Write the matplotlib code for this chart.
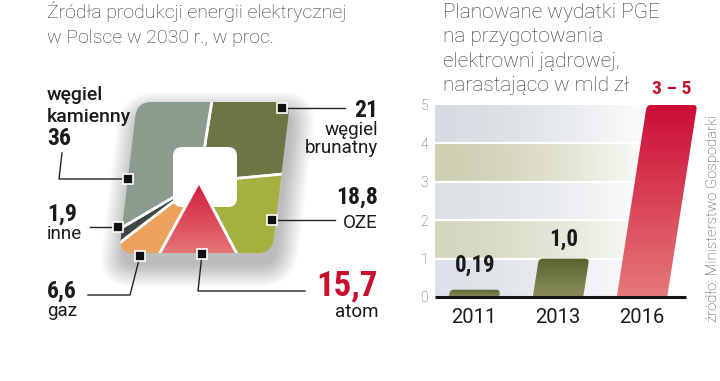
import numpy as np
import matplotlib

matplotlib.use("Agg")
import matplotlib.pyplot as plt
from matplotlib import font_manager
from matplotlib.colors import LinearSegmentedColormap, to_rgb
from matplotlib.patches import FancyBboxPatch
from matplotlib.transforms import Affine2D

# --- struktura produkcji energii w 2030 r. (proc.) ---
sources = ["węgiel brunatny", "OZE", "atom", "gaz", "inne", "węgiel kamienny"]
shares = [21, 18.8, 15.7, 6.6, 1.9, 36]
share_labels = ["21", "18,8", "15,7", "6,6", "1,9", "36"]
source_colors = ["#6c7544", "#a4b03f", "#d9334f", "#eca25c", "#3e4545", "#8a9c8d"]

# --- wydatki PGE, mld zł ---
years = ["2011", "2013", "2016"]
spend = [0.19, 1.0, 5.0]
spend_labels = ["0,19", "1,0", "3 – 5"]
y_ticks = [0, 1, 2, 3, 4, 5]

_names = {f.name for f in font_manager.fontManager.ttflist}


def pick_family(cands: list[str]) -> list[str]:
    for c in cands:
        if c in _names:
            return [c, "DejaVu Sans"]
    return ["DejaVu Sans"]


NARROW = pick_family(["Roboto Condensed", "Asap Condensed", "Archivo Narrow", "Liberation Sans Narrow"])
LIGHT = ["Roboto", "DejaVu Sans"]

fig = plt.figure(figsize=(7.2, 3.81), dpi=100)
fig.patch.set_facecolor("white")

# ---------------- lewa część: "kwadratowy" tort ----------------
ax = fig.add_axes([0, 0, 1, 1])
PIE_C = (199, 182)
wedges, _ = ax.pie(shares, colors=source_colors, startangle=-81, counterclock=True,
                   radius=150, center=PIE_C, frame=True,
                   wedgeprops=dict(edgecolor="white", linewidth=2))
ax.set_aspect("auto")

k, yc = -0.12, 178
skew = Affine2D(np.array([[1, k, -k * yc], [0, 1, 0], [0, 0, 1]]))
outer = FancyBboxPatch((128, 102), 153, 151, boxstyle="round,pad=0,rounding_size=14",
                       transform=skew + ax.transData, facecolor="none", edgecolor="none")
ax.add_patch(outer)

# miękki cień pod kształtem
for i in range(14):
    sh = FancyBboxPatch((128, 102), 153, 151,
                        boxstyle=f"round,pad={i * 1.7},rounding_size={14 + i * 1.7}",
                        transform=skew + Affine2D().translate(3, 12) + ax.transData,
                        facecolor="black", edgecolor="none", alpha=0.018, zorder=0.5)
    ax.add_patch(sh)

for w in wedges:
    w.set_clip_on(True)
    w.set_clip_path(outer)
    w.set_zorder(1)

hole = FancyBboxPatch((173, 147), 64, 60, boxstyle="round,pad=0,rounding_size=9",
                      facecolor="white", edgecolor="none", zorder=2)
ax.add_patch(hole)

atom = wedges[2]
atom.set_zorder(3.5)
atom.set_facecolor("none")
atom_cmap = LinearSegmentedColormap.from_list("atom", ["#cf1238", "#e57474"])
im = ax.imshow(np.linspace(0, 1, 64)[:, None], cmap=atom_cmap, extent=(140, 260, 253, 175),
               aspect="auto", interpolation="bilinear", zorder=3)
im.set_clip_path(atom)

ax.set_xlim(0, 720)
ax.set_ylim(381, 0)
ax.axis("off")

# linie odnośników + znaczniki
leaders = [
    [(282, 108), (345, 108)],
    [(272, 220), (335, 220)],
    [(202, 254), (198, 291), (305, 291)],
    [(140, 256), (130, 295), (88, 295)],
    [(118, 227), (90, 227)],
    [(128, 179), (59, 179), (62, 153)],
]
for pts in leaders:
    xs, ys = zip(*pts)
    ax.plot(xs, ys, color="#222222", lw=1, zorder=5)
    ax.plot(xs[0], ys[0], marker="s", ms=6.5, mfc="#111111", mec="white", mew=1.2, zorder=6)

num_kw = dict(family=NARROW, weight="bold", color="#1a1a1a", fontsize=17)
lab_kw = dict(family=LIGHT, color="#1a1a1a", fontsize=13.5)

ax.text(378, 117, share_labels[0], ha="right", **num_kw)
ax.text(378, 135, "węgiel", ha="right", **lab_kw)
ax.text(378, 153, "brunatny", ha="right", **lab_kw)
ax.text(378, 204, share_labels[1], ha="right", **num_kw)
ax.text(378, 228, "OZE", ha="right", **lab_kw)
ax.text(378, 295, share_labels[2], ha="right", family=NARROW, weight="bold",
        color="#c8102e", fontsize=25)
ax.text(378, 317, "atom", ha="right", **lab_kw)
ax.text(47, 298, share_labels[3], ha="left", **num_kw)
ax.text(47, 316, "gaz", ha="left", **lab_kw)
ax.text(47, 221, share_labels[4], ha="left", **num_kw)
ax.text(47, 239, "inne", ha="left", **lab_kw)
ax.text(47, 100, "węgiel", ha="left", family=LIGHT, weight="medium", color="#1a1a1a", fontsize=14)
ax.text(47, 122, "kamienny", ha="left", family=LIGHT, weight="medium", color="#1a1a1a", fontsize=14)
ax.text(47, 145, share_labels[5], ha="left", **num_kw)

title_kw = dict(family=LIGHT, weight="light", color="#333333", fontsize=14, ha="left")
ax.text(47, 18, "Źródła produkcji energii elektrycznej", **title_kw)
ax.text(47, 43, "w Polsce w 2030 r., w proc.", **title_kw)
for j, line in enumerate(["Planowane wydatki PGE", "na przygotowania",
                          "elektrowni jądrowej,", "narastająco w mld zł"]):
    ax.text(443, 18 + j * 24.3, line, **{**title_kw, "fontsize": 15})

ax.text(713, 218, "źródło: Ministerstwo Gospodarki", rotation=90, ha="center", va="center",
        family=LIGHT, weight="light", color="#444444", fontsize=10.8)

# ---------------- prawa część: słupki ----------------
ax2 = fig.add_axes([435 / 720, 84 / 381, 270 / 720, 192 / 381], zorder=2)
ax2.patch.set_alpha(0)
px_x = 84.0
xmin = -(474 - 435) / px_x
xmax = xmin + 270 / px_x
x_band_end = xmin + (686 - 435) / px_x

band_cols = ["#dde2e8", "#d6d7c0", "#dde1e6", "#cfcfb3", "#d7dce2"]
t = np.linspace(0, 1, 200)
fade = np.clip(t / 0.88, 0, 1) ** 1.6
for b, col in enumerate(band_cols):
    rgb = np.array(to_rgb(col))
    img = rgb[None, :] * (1 - fade[:, None]) + fade[:, None]
    ax2.imshow(img[None, :, :], extent=(xmin, x_band_end, b, b + 1), aspect="auto",
               interpolation="bilinear", zorder=0)
for yv in y_ticks[1:-1]:
    ax2.axhline(yv, xmin=0, xmax=(686 - 435) / 270, color="white", lw=1.6, zorder=1)

s = 6.0 / px_x
bar_tr = Affine2D(np.array([[1, s, 0], [0, 1, 0], [0, 0, 1]])) + ax2.transData
bw = 0.6
bar_grads = [["#586430", "#8a8e5d"], ["#586430", "#8a8e5d"], ["#cc0d37", "#e67878"]]
label_off = [13, 9, 8]
for i, v in enumerate(spend):
    bar = FancyBboxPatch((i - bw / 2, -0.3), bw, v + 0.3,
                         boxstyle="round,pad=0,rounding_size=0.05", mutation_aspect=2.17,
                         transform=bar_tr, facecolor="none", edgecolor="none")
    ax2.add_patch(bar)
    cm = LinearSegmentedColormap.from_list(f"b{i}", bar_grads[i])
    bim = ax2.imshow(np.linspace(0, 1, 64)[:, None], cmap=cm, extent=(i - 0.5, i + 0.8, 0, v),
                     aspect="auto", interpolation="bilinear", zorder=2)
    bim.set_clip_path(bar)
    col = "#c8102e" if i == 2 else "#1a1a1a"
    fs = 14 if i == 2 else 16.5
    ax2.annotate(spend_labels[i], (i + s * v, v), xytext=(0, label_off[i]),
                 textcoords="offset points", ha="center", va="baseline", family=NARROW,
                 weight="bold", color=col, fontsize=fs, annotation_clip=False)

ax2.plot([xmin, x_band_end], [0, 0], color="#111111", lw=2.2, zorder=3, clip_on=False,
         solid_capstyle="butt")
ax2.set_xlim(xmin, xmax)
ax2.set_ylim(0, 5)
ax2.set_xticks(range(len(years)), years)
ax2.set_yticks(y_ticks)
ax2.tick_params(axis="x", length=0, pad=8, labelsize=14.5, labelcolor="#1a1a1a")
ax2.tick_params(axis="y", length=0, pad=5, labelsize=10, labelcolor="#555555")
for lbl in ax2.get_xticklabels():
    lbl.set_family(LIGHT)
for lbl in ax2.get_yticklabels():
    lbl.set_family(LIGHT)
    lbl.set_weight("light")
for sp in ax2.spines.values():
    sp.set_visible(False)

fig.savefig("out.png", dpi=100)
